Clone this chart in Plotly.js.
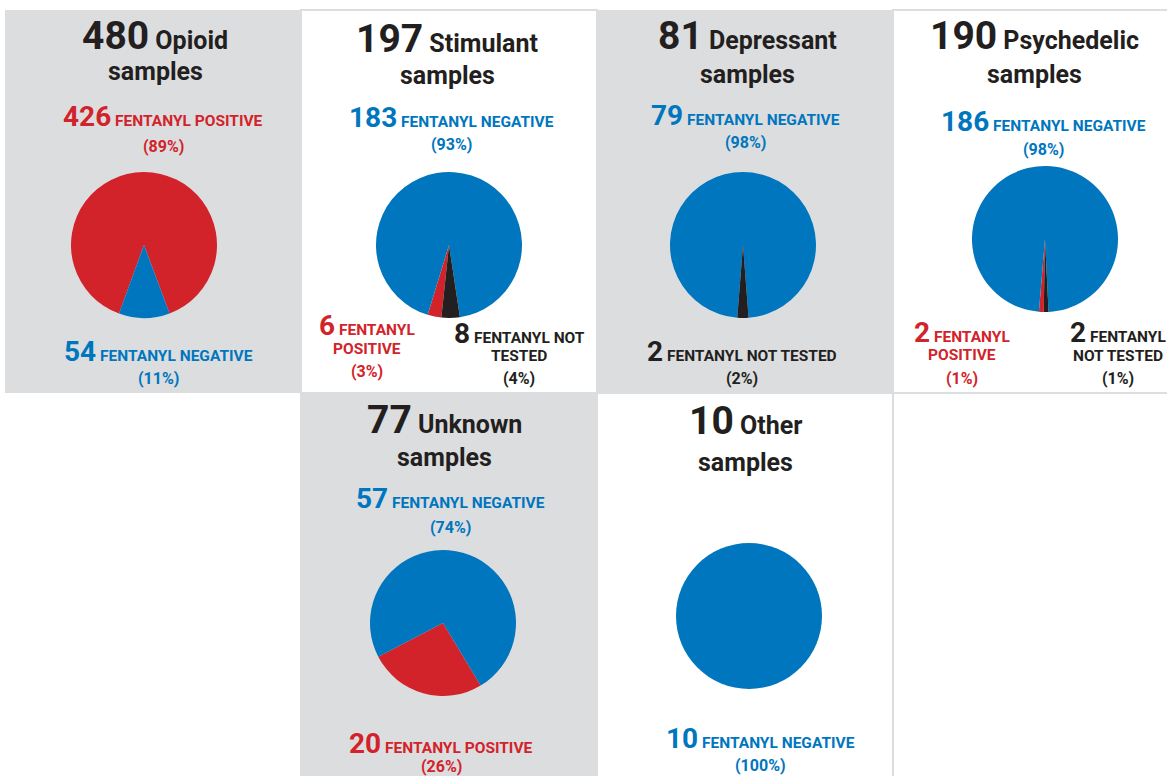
<!DOCTYPE html>
<html><head><meta charset="utf-8">
<script src="https://cdn.plot.ly/plotly-3.0.1.min.js"></script>
<style>html,body{margin:0;padding:0;background:#fff;} #chart{width:1167px;height:776px;}</style>
</head><body><div id="chart"></div>
<script>
// ---- data ----
const drugTypes = ['Opioid','Stimulant','Depressant','Psychedelic','Unknown','Other'];
const totalSamples = [480,197,81,190,77,10];
const fentanylPositive = [426,6,0,2,20,0];
const fentanylNegative = [54,183,79,186,57,10];
const fentanylNotTested = [0,8,2,2,0,0];
const resultLabels = ['FENTANYL POSITIVE','FENTANYL NEGATIVE','FENTANYL NOT TESTED'];
const resultColors = ['#d2232a','#0076be','#231f20'];

// ---- layout (positions in pixels) ----
const W = 1167, H = 776, R = 73;
const GRAY = '#dcdddf', DARK = '#231f20';
const FONT = 'Roboto, "Liberation Sans", sans-serif';
const px = x => x / W, py = y => 1 - y / H;

const panels = [
  {box:[5,10,300,393], bg:GRAY, cx:144, cy:245, rot:200, tx:155, ty:[36,71],
   labels:[{k:0, x:163, y:[116], lines:['FENTANYL POSITIVE'], py:146},
           {k:1, x:159, y:[352], lines:['FENTANYL NEGATIVE'], py:378}]},
  {box:[301,10,597,393], bg:'#fff', cx:449, cy:245, rot:186, tx:447, ty:[39,76],
   labels:[{k:1, x:451, y:[117], lines:['FENTANYL NEGATIVE'], py:144},
           {k:0, x:367, y:[325,349], lines:['FENTANYL','POSITIVE'], py:371},
           {k:2, x:519, y:[333,356], lines:['FENTANYL NOT','TESTED'], py:378}]},
  {box:[597,10,893,393], bg:GRAY, cx:743, cy:245, rot:184.5, tx:747, ty:[36,75],
   labels:[{k:1, x:745, y:[115], lines:['FENTANYL NEGATIVE'], py:142},
           {k:2, x:742, y:[352], lines:['FENTANYL NOT TESTED'], py:378}]},
  {box:[893,10,1168,393], bg:'#fff', cx:1045, cy:239, rot:181, tx:1034, ty:[36,74],
   labels:[{k:1, x:1043, y:[121], lines:['FENTANYL NEGATIVE'], py:149},
           {k:0, x:962, y:[332,355], lines:['FENTANYL','POSITIVE'], py:378},
           {k:2, x:1118, y:[332,356], lines:['FENTANYL','NOT TESTED'], py:378}]},
  {box:[300,393,597,777], bg:GRAY, cx:443, cy:623, rot:149, tx:445, ty:[420,457],
   labels:[{k:1, x:450, y:[498], lines:['FENTANYL NEGATIVE'], py:527},
           {k:0, x:441, y:[743], lines:['FENTANYL POSITIVE'], py:766}]},
  {box:[597,393,893,777], bg:'#fff', cx:749, cy:616, rot:0, tx:745, ty:[421,462],
   labels:[{k:1, x:760, y:[738], lines:['FENTANYL NEGATIVE'], py:765}]}
];

const shapes = [];
const annotations = [];
const traces = [];

// empty bordered cell, row 2 col 4
shapes.push({type:'rect', xref:'paper', yref:'paper', layer:'below',
  x0:px(893), x1:px(1168), y0:py(777), y1:py(393), fillcolor:'#fff', line:{color:GRAY, width:2}});

panels.forEach((p, i) => {
  const [x0,y0,x1,y1] = p.box;
  shapes.push({type:'rect', xref:'paper', yref:'paper', layer:'below',
    x0:px(x0), x1:px(x1), y0:py(y1), y1:py(y0), fillcolor:p.bg,
    line:{color:GRAY, width:p.bg === GRAY ? 0 : 2}});

  const vals = [fentanylPositive[i], fentanylNegative[i], fentanylNotTested[i]];
  traces.push({type:'pie', values:vals, labels:resultLabels, sort:false,
    direction:'clockwise', rotation:p.rot, textinfo:'none', hoverinfo:'label+value',
    marker:{colors:resultColors, line:{width:0}}, showlegend:false,
    domain:{x:[px(p.cx - R), px(p.cx + R)], y:[py(p.cy + R), py(p.cy - R)]}});

  // title
  annotations.push({xref:'paper', yref:'paper', x:px(p.tx), y:py(p.ty[0]), xanchor:'center', yanchor:'middle',
    showarrow:false, font:{family:FONT, size:25, color:DARK},
    text:`<b><span style="font-size:39px">${totalSamples[i]}</span> ${drugTypes[i]}</b>`});
  annotations.push({xref:'paper', yref:'paper', x:px(p.tx), y:py(p.ty[1]), xanchor:'center', yanchor:'middle',
    showarrow:false, font:{family:FONT, size:25, color:DARK}, text:'<b>samples</b>'});

  // result labels
  p.labels.forEach(l => {
    const v = vals[l.k];
    const col = resultColors[l.k];
    l.lines.forEach((ln, j) => {
      const txt = j === 0 ? `<b><span style="font-size:28px">${v}</span> ${ln}</b>` : `<b>${ln}</b>`;
      annotations.push({xref:'paper', yref:'paper', x:px(l.x), y:py(l.y[j]), xanchor:'center', yanchor:'middle',
        showarrow:false, font:{family:FONT, size:15.5, color:col}, text:txt});
    });
    const pct = Math.round(100 * v / totalSamples[i]);
    annotations.push({xref:'paper', yref:'paper', x:px(l.x), y:py(l.py), xanchor:'center', yanchor:'middle',
      showarrow:false, font:{family:FONT, size:16, color:col}, text:`<b>(${pct}%)</b>`});
  });
});

const layout = {width:W, height:H, margin:{l:0,r:0,t:0,b:0},
  paper_bgcolor:'#fff', plot_bgcolor:'#fff', shapes, annotations, showlegend:false};

Plotly.newPlot('chart', traces, layout, {displayModeBar:false, staticPlot:false});
</script></body></html>
